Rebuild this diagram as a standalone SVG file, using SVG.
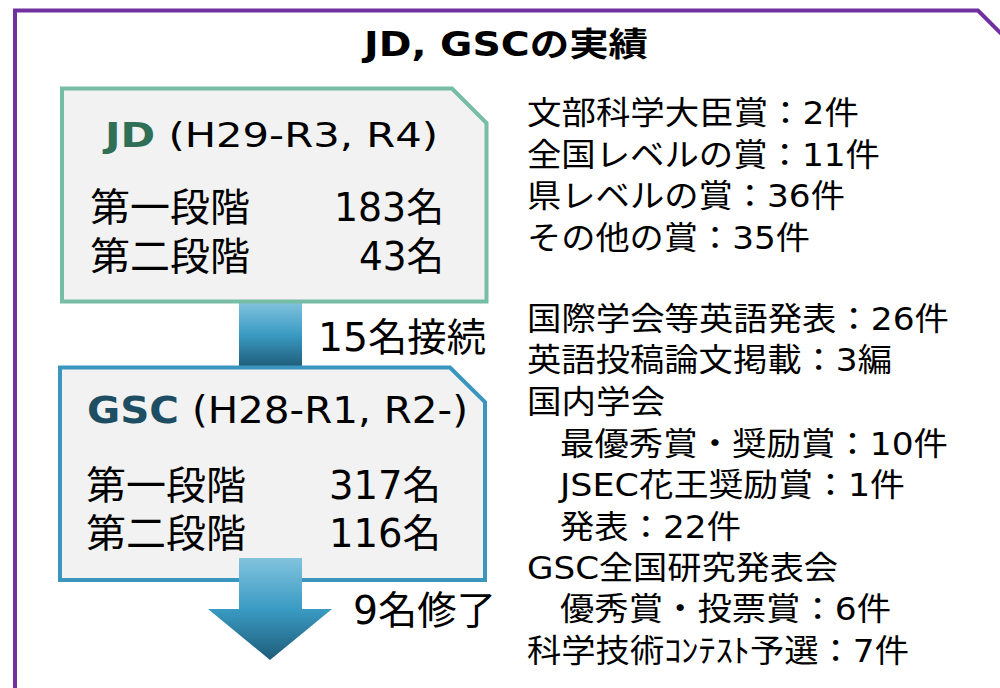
<svg xmlns="http://www.w3.org/2000/svg" width="1000" height="688" viewBox="0 0 1000 688">
  <defs>
    <linearGradient id="blueGrad" x1="0" y1="0" x2="0" y2="1">
      <stop offset="0" stop-color="#82C3DE"/>
      <stop offset="0.5" stop-color="#3A9BC3"/>
      <stop offset="1" stop-color="#1F5C7A"/>
    </linearGradient>
    <style>
      .t { font-family: "DejaVu Sans", "Noto Sans CJK JP", sans-serif; fill: #000000; }
      .cjk { font-family: "Noto Sans CJK JP", sans-serif; fill: #000000; }
      .box { fill: #F2F2F2; stroke-width: 4; stroke-linejoin: miter; }
      .list { font-size: 32px; }
      .row { font-size: 39px; }
    </style>
  </defs>
  <rect width="1000" height="688" fill="#FFFFFF"/>

  <g id="frame">
    <path d="M15 690 V10.5 H978 L1002 34.5" fill="none" stroke="#7030A0" stroke-width="4"/>
  </g>

  <g id="title">
    <text class="t" x="364" y="56" font-size="33" font-weight="bold" textLength="284" lengthAdjust="spacingAndGlyphs">JD, GSC<tspan class="cjk" font-weight="bold">の実績</tspan></text>
  </g>

  <g id="connectors">
    <rect x="239" y="302" width="63" height="65" fill="url(#blueGrad)"/>
    <text class="t row" x="318" y="351" textLength="168" lengthAdjust="spacingAndGlyphs">15名接続</text>
  </g>

  <g id="node-jd">
    <path class="box" d="M62 88.5 H452 L486.5 123 V301.5 H62 Z" stroke="#77BDA5"/>
    <text class="t" x="105" y="147" font-size="33" textLength="333" lengthAdjust="spacingAndGlyphs"><tspan font-weight="bold" fill="#2F6F55">JD</tspan> (H29-R3, R4)</text>
    <text class="t row" x="90" y="221" textLength="160" lengthAdjust="spacingAndGlyphs">第一段階</text>
    <text class="t row" x="334" y="221" textLength="110" lengthAdjust="spacingAndGlyphs">183名</text>
    <text class="t row" x="90" y="270" textLength="160" lengthAdjust="spacingAndGlyphs">第二段階</text>
    <text class="t row" x="359" y="270" textLength="85" lengthAdjust="spacingAndGlyphs">43名</text>
  </g>

  <g id="node-gsc">
    <path class="box" d="M60 367.5 H450 L485 402 V580 H60 Z" stroke="#3A96BF"/>
    <text class="t" x="87" y="423" font-size="37" textLength="381" lengthAdjust="spacingAndGlyphs"><tspan font-weight="bold" fill="#1D4E63">GSC</tspan> (H28-R1, R2-)</text>
    <text class="t row" x="86" y="499" textLength="160" lengthAdjust="spacingAndGlyphs">第一段階</text>
    <text class="t row" x="329" y="499" textLength="112" lengthAdjust="spacingAndGlyphs">317名</text>
    <text class="t row" x="86" y="547" textLength="160" lengthAdjust="spacingAndGlyphs">第二段階</text>
    <text class="t row" x="329" y="547" textLength="112" lengthAdjust="spacingAndGlyphs">116名</text>
  </g>

  <g id="exit-arrow">
    <polygon points="239,558 302,558 302,609 332,609 270,660 208,609 239,609" fill="url(#blueGrad)"/>
    <text class="t row" x="353" y="624" textLength="143" lengthAdjust="spacingAndGlyphs">9名修了</text>
  </g>

  <g id="awards">
    <text class="t list" x="527" y="124" textLength="332" lengthAdjust="spacingAndGlyphs">文部科学大臣賞：2件</text>
    <text class="t list" x="527" y="166" textLength="353" lengthAdjust="spacingAndGlyphs">全国レベルの賞：11件</text>
    <text class="t list" x="527" y="207" textLength="318" lengthAdjust="spacingAndGlyphs">県レベルの賞：36件</text>
    <text class="t list" x="527" y="249" textLength="283" lengthAdjust="spacingAndGlyphs">その他の賞：35件</text>
  </g>

  <g id="presentations">
    <text class="t list" x="527" y="330" textLength="422" lengthAdjust="spacingAndGlyphs">国際学会等英語発表：26件</text>
    <text class="t list" x="527" y="371" textLength="365" lengthAdjust="spacingAndGlyphs">英語投稿論文掲載：3編</text>
    <text class="t list" x="527" y="413" textLength="138" lengthAdjust="spacingAndGlyphs">国内学会</text>
    <text class="t list" x="560" y="455" textLength="388" lengthAdjust="spacingAndGlyphs">最優秀賞・奨励賞：10件</text>
    <text class="t list" x="560" y="496" textLength="345" lengthAdjust="spacingAndGlyphs">JSEC花王奨励賞：1件</text>
    <text class="t list" x="560" y="538" textLength="181" lengthAdjust="spacingAndGlyphs">発表：22件</text>
    <text class="t list" x="527" y="579" textLength="311" lengthAdjust="spacingAndGlyphs">GSC全国研究発表会</text>
    <text class="t list" x="560" y="620" textLength="331" lengthAdjust="spacingAndGlyphs">優秀賞・投票賞：6件</text>
    <text class="t list" x="527" y="662" textLength="382" lengthAdjust="spacingAndGlyphs">科学技術ｺﾝﾃｽﾄ予選：7件</text>
  </g>
</svg>
